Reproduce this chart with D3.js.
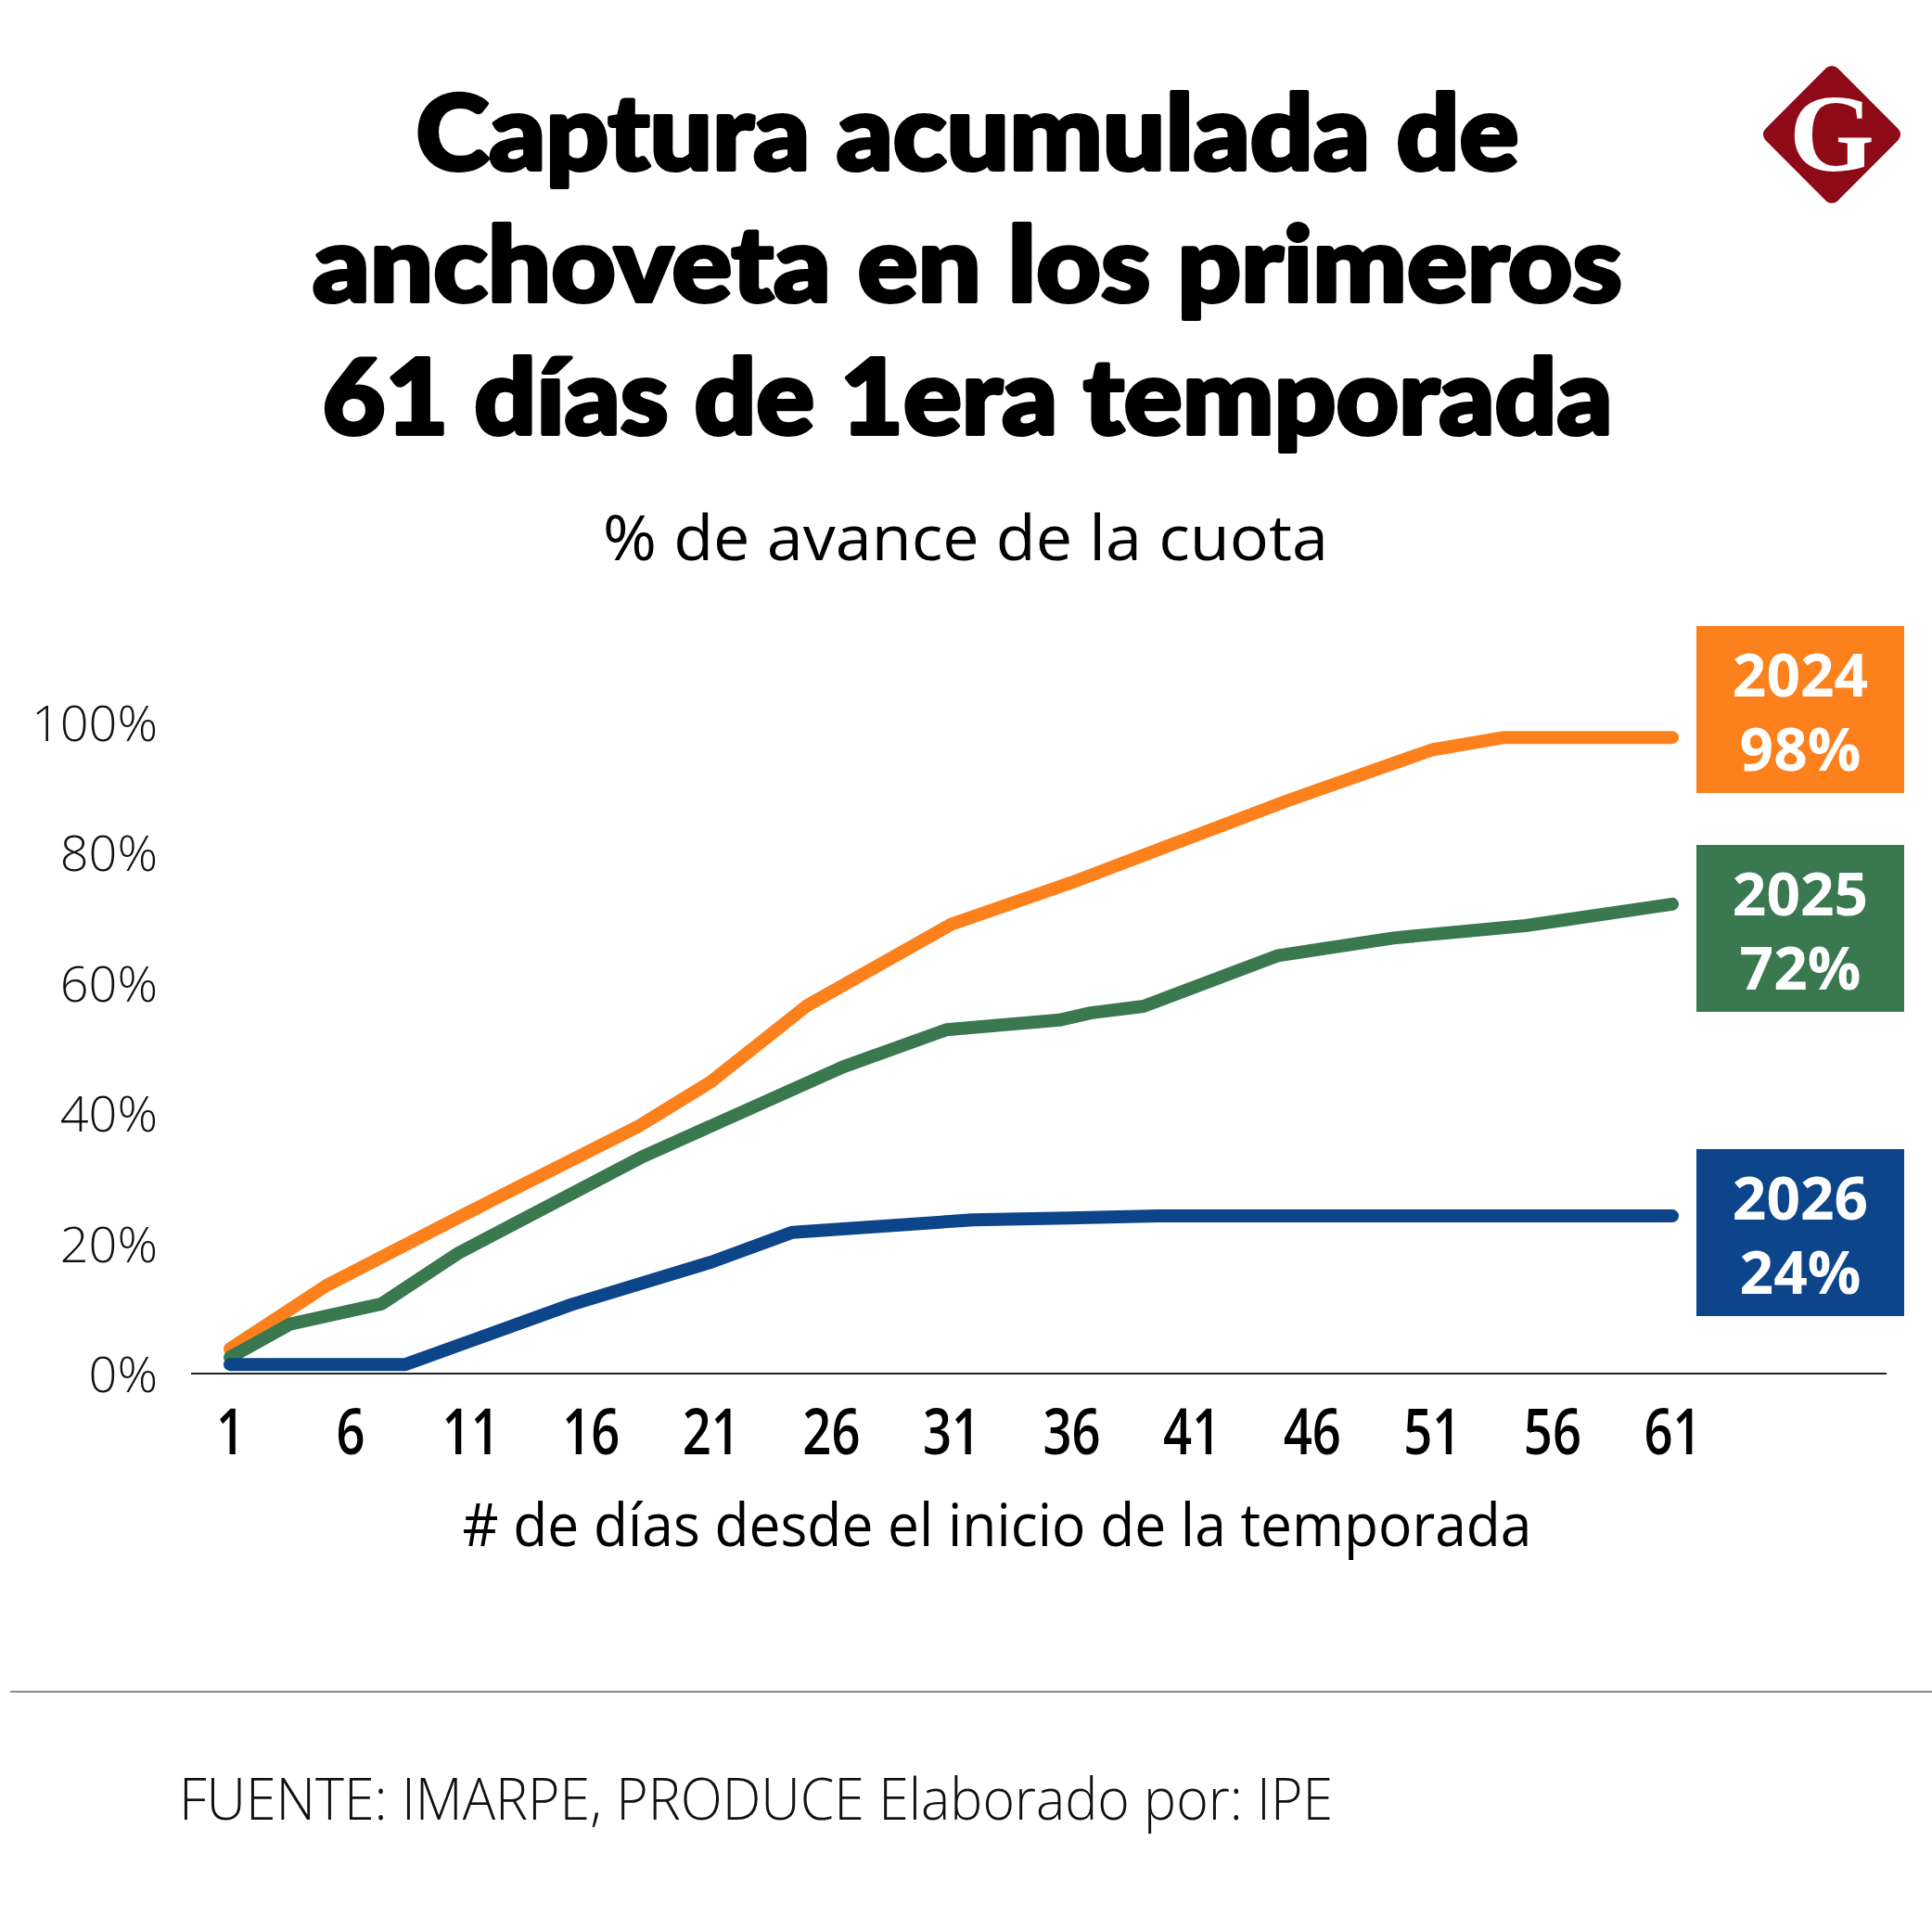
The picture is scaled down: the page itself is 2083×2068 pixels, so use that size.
<!DOCTYPE html>
<html lang="es">
<head>
<meta charset="utf-8">
<title>Captura acumulada de anchoveta</title>
<script src="https://d3js.org/d3.v7.min.js"></script>
<style>
  body { margin: 0; background: #fff; }
  svg { display: block; }
</style>
</head>
<body>
<script>
// datos (día de temporada, % de avance de la cuota)
var dias2024 = [1, 5, 12, 18, 21, 25, 31, 36, 45, 51, 54, 61];
var avance2024 = [3.8, 13.5, 26.8, 38, 44.8, 56.5, 69, 75.4, 88, 95.8, 97.7, 97.7];

var dias2025 = [1, 3.5, 7.3, 10.5, 18.1, 26.5, 30.8, 35.5, 36.8, 39, 44.6, 49.4, 54.9, 61];
var avance2025 = [2.5, 7.6, 10.7, 18.5, 33.2, 47.1, 52.8, 54.3, 55.4, 56.4, 64.2, 66.9, 68.8, 72.1];

var dias2026 = [1, 8.3, 15.2, 21, 24.4, 31.9, 35.9, 39.6, 61];
var avance2026 = [1.4, 1.4, 10.6, 17.1, 21.7, 23.6, 23.9, 24.2, 24.2];

var anios = ["2024", "2025", "2026"];
var finales = ["98%", "72%", "24%"];
var colores = ["#fc801c", "#3a784f", "#0c458a"];

var ticksX = [1, 6, 11, 16, 21, 26, 31, 36, 41, 46, 51, 56, 61];
var ticksY = [0, 20, 40, 60, 80, 100];

var titulo = ["Captura acumulada de", "anchoveta en los primeros", "61 días de 1era temporada"];
var subtitulo = "% de avance de la cuota";
var tituloX = "# de días desde el inicio de la temporada";
var fuente = "FUENTE: IMARPE, PRODUCE Elaborado por: IPE";

var W = 2083, H = 2068;

var svg = d3.select("body").append("svg")
  .attr("width", W)
  .attr("height", H);

svg.append("rect").attr("width", W).attr("height", H).attr("fill", "#fff");

// escalas
var x = d3.scaleLinear().domain([1, 61]).range([248, 1803]);
var y = d3.scaleLinear().domain([0, 100]).range([1481, 779]);

// titulo
var anchos = [1189, 1412, 1391];
var baseT = [183, 325, 468];
svg.selectAll("text.titulo")
  .data(titulo)
  .enter()
  .append("text")
  .attr("class", "titulo")
  .attr("x", 1043)
  .attr("y", function(d, i) { return baseT[i]; })
  .attr("text-anchor", "middle")
  .attr("font-family", "Lato, 'Open Sans', sans-serif")
  .attr("font-weight", 900)
  .attr("font-size", 112)
  .attr("stroke", "#000")
  .attr("stroke-width", 4)
  .attr("stroke-linejoin", "round")
  .attr("textLength", function(d, i) { return anchos[i]; })
  .attr("lengthAdjust", "spacingAndGlyphs")
  .text(function(d) { return d; });

// subtitulo
svg.append("text")
  .attr("x", 1041)
  .attr("y", 604)
  .attr("text-anchor", "middle")
  .attr("font-family", "'Open Sans', sans-serif")
  .attr("font-size", 68)
  .attr("textLength", 782)
  .attr("lengthAdjust", "spacingAndGlyphs")
  .text(subtitulo);

// logo
var logo = svg.append("g").attr("transform", "translate(1975,145)");
logo.append("rect")
  .attr("x", -55).attr("y", -55)
  .attr("width", 110).attr("height", 110)
  .attr("rx", 9)
  .attr("transform", "rotate(45)")
  .attr("fill", "#8e0a16");
logo.append("text")
  .attr("x", 0).attr("y", 39)
  .attr("text-anchor", "middle")
  .attr("font-family", "'Liberation Serif', 'DejaVu Serif', serif")
  .attr("font-weight", 700)
  .attr("font-size", 118)
  .attr("fill", "#fff")
  .text("G");

// eje Y (solo etiquetas)
svg.selectAll("text.ytick")
  .data(ticksY)
  .enter()
  .append("text")
  .attr("class", "ytick")
  .attr("x", 170)
  .attr("y", function(d) { return y(d) + 20; })
  .attr("text-anchor", "end")
  .attr("font-family", "'Open Sans', sans-serif")
  .attr("font-weight", 300)
  .attr("font-size", 54)
  .attr("fill", "#111")
  .text(function(d) { return d + "%"; });

// linea base
svg.append("line")
  .attr("x1", 206).attr("x2", 2034)
  .attr("y1", y(0)).attr("y2", y(0))
  .attr("stroke", "#222")
  .attr("stroke-width", 2);

// eje X
var ejeX = svg.append("g")
  .attr("transform", "translate(0," + y(0) + ")")
  .call(d3.axisBottom(x).tickValues(ticksX).tickSize(0).tickPadding(87).tickFormat(d3.format("d")));
ejeX.select(".domain").remove();
ejeX.selectAll("text")
  .attr("font-family", "'Open Sans', sans-serif")
  .attr("font-weight", 600)
  .attr("font-size", 68)
  .attr("fill", "#000")
  .attr("dy", 0)
  .each(function() {
    var t = d3.select(this);
    t.attr("textLength", this.getComputedTextLength() * 0.8)
      .attr("lengthAdjust", "spacingAndGlyphs");
  });

svg.append("text")
  .attr("x", 1075)
  .attr("y", 1667)
  .attr("text-anchor", "middle")
  .attr("font-family", "'Open Sans', sans-serif")
  .attr("font-weight", 500)
  .attr("font-size", 64)
  .attr("textLength", 1153)
  .attr("lengthAdjust", "spacingAndGlyphs")
  .text(tituloX);

// lineas
var series = [
  d3.zip(dias2024, avance2024),
  d3.zip(dias2025, avance2025),
  d3.zip(dias2026, avance2026)
];

var linea = d3.line()
  .x(function(d) { return x(d[0]); })
  .y(function(d) { return y(d[1]); });

svg.selectAll("path.serie")
  .data(series)
  .enter()
  .append("path")
  .attr("class", "serie")
  .attr("d", linea)
  .attr("fill", "none")
  .attr("stroke", function(d, i) { return colores[i]; })
  .attr("stroke-width", 14)
  .attr("stroke-linecap", "round")
  .attr("stroke-linejoin", "round");

// cajas con el valor final
var cajaTop = [675, 911, 1239];
var cajas = svg.selectAll("g.caja")
  .data(anios)
  .enter()
  .append("g")
  .attr("class", "caja")
  .attr("transform", function(d, i) { return "translate(1829," + cajaTop[i] + ")"; });

cajas.append("rect")
  .attr("width", 224)
  .attr("height", 180)
  .attr("fill", function(d, i) { return colores[i]; });

// dos lineas en un solo texto
var etiqueta = cajas.append("text")
  .attr("text-anchor", "middle")
  .attr("font-family", "'Open Sans', sans-serif")
  .attr("font-weight", 700)
  .attr("font-size", 64)
  .attr("fill", "#fff");
etiqueta.append("tspan")
  .attr("x", 112).attr("y", 76)
  .text(function(d) { return d; });
etiqueta.append("tspan")
  .attr("x", 112).attr("y", 156)
  .text(function(d, i) { return finales[i]; });

// separador y fuente
svg.append("line")
  .attr("x1", 11).attr("x2", W)
  .attr("y1", 1824).attr("y2", 1824)
  .attr("stroke", "#8a8a8a")
  .attr("stroke-width", 2);

svg.append("text")
  .attr("x", 193)
  .attr("y", 1962)
  .attr("font-family", "'Open Sans', sans-serif")
  .attr("font-weight", 300)
  .attr("font-size", 62)
  .attr("fill", "#111")
  .attr("textLength", 1244)
  .attr("lengthAdjust", "spacingAndGlyphs")
  .text(fuente);
</script>
</body>
</html>
